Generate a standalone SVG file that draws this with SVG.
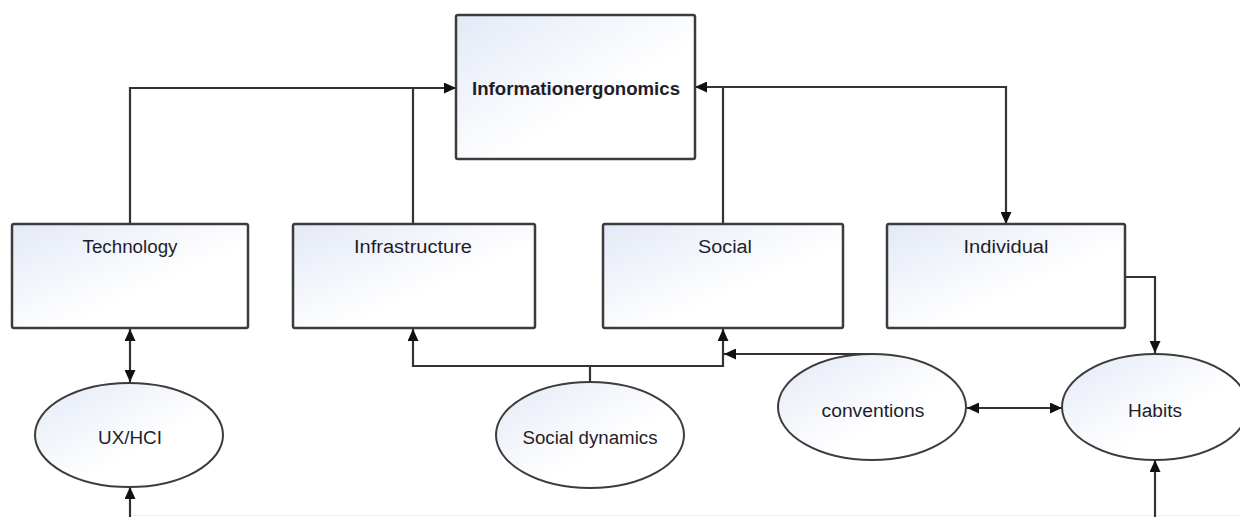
<svg xmlns="http://www.w3.org/2000/svg" width="1240" height="517" viewBox="0 0 1240 517">
  <defs>
    <linearGradient id="fill" x1="0" y1="0" x2="1" y2="1">
      <stop offset="0" stop-color="#e3e9f6"/>
      <stop offset="0.6" stop-color="#ffffff"/>
      <stop offset="1" stop-color="#ffffff"/>
    </linearGradient>
    <marker id="arrow" viewBox="0 0 12 11" refX="12" refY="5.5" markerWidth="12" markerHeight="11" markerUnits="userSpaceOnUse" orient="auto-start-reverse">
      <path d="M0,0 L12,5.5 L0,11 z" fill="#111"/>
    </marker>
    <style>
      .box { fill: url(#fill); stroke: #3c3c3c; stroke-width: 2.5; }
      .ell { fill: url(#fill); stroke: #3c3c3c; stroke-width: 2; }
      .conn { fill: none; stroke: #333; stroke-width: 2.2; }
      .lbl { font-family: "Liberation Sans", Arial, sans-serif; font-size: 18px; fill: #1e1e2a; text-anchor: middle; }
      .title { font-weight: bold; font-size: 18px; }
    </style>
  </defs>
  <rect width="1240" height="517" fill="#ffffff"/>
  <line x1="130" y1="515.5" x2="1240" y2="515.5" stroke="#f0f0f0" stroke-width="1"/>

  <g id="connectors">
    <path class="conn" d="M130,224 V88 H456" marker-end="url(#arrow)"/>
    <path class="conn" d="M413,224 V88"/>
    <path class="conn" d="M723,224 V87 H695" marker-end="url(#arrow)"/>
    <path class="conn" d="M723,87 H1006 V224" marker-end="url(#arrow)"/>
    <path class="conn" d="M130,329 V382" marker-start="url(#arrow)" marker-end="url(#arrow)"/>
    <path class="conn" d="M130,517 V487" marker-end="url(#arrow)"/>
    <path class="conn" d="M590,382 V366 H413 V329" marker-end="url(#arrow)"/>
    <path class="conn" d="M590,366 H723 V329" marker-end="url(#arrow)"/>
    <path class="conn" d="M872,354 H724" marker-end="url(#arrow)"/>
    <path class="conn" d="M1125,277 H1155 V353" marker-end="url(#arrow)"/>
    <path class="conn" d="M967,408 H1062" stroke-width="2.8" marker-start="url(#arrow)" marker-end="url(#arrow)"/>
    <path class="conn" d="M1155,517 V460" marker-end="url(#arrow)"/>
  </g>

  <g id="information-ergonomics">
    <rect class="box" x="456" y="15" width="239" height="144" rx="2"/>
    <text class="lbl title" x="576" y="95" textLength="208" lengthAdjust="spacingAndGlyphs">Informationergonomics</text>
  </g>
  <g id="technology">
    <rect class="box" x="12" y="224" width="236" height="104" rx="2"/>
    <text class="lbl" x="130" y="253" textLength="95" lengthAdjust="spacingAndGlyphs">Technology</text>
  </g>
  <g id="infrastructure">
    <rect class="box" x="293" y="224" width="242" height="104" rx="2"/>
    <text class="lbl" x="413" y="253" textLength="118" lengthAdjust="spacingAndGlyphs">Infrastructure</text>
  </g>
  <g id="social">
    <rect class="box" x="603" y="224" width="240" height="104" rx="2"/>
    <text class="lbl" x="725" y="253" textLength="54" lengthAdjust="spacingAndGlyphs">Social</text>
  </g>
  <g id="individual">
    <rect class="box" x="887" y="224" width="238" height="104" rx="2"/>
    <text class="lbl" x="1006" y="253" textLength="85" lengthAdjust="spacingAndGlyphs">Individual</text>
  </g>
  <g id="ux-hci">
    <ellipse class="ell" cx="129" cy="435" rx="94" ry="52"/>
    <text class="lbl" x="130" y="444" textLength="64" lengthAdjust="spacingAndGlyphs">UX/HCI</text>
  </g>
  <g id="social-dynamics">
    <ellipse class="ell" cx="590" cy="435" rx="94" ry="53"/>
    <text class="lbl" x="590" y="444" textLength="135" lengthAdjust="spacingAndGlyphs">Social dynamics</text>
  </g>
  <g id="conventions">
    <ellipse class="ell" cx="872" cy="407" rx="94" ry="53"/>
    <text class="lbl" x="873" y="417" textLength="103" lengthAdjust="spacingAndGlyphs">conventions</text>
  </g>
  <g id="habits">
    <ellipse class="ell" cx="1155" cy="407" rx="93" ry="53"/>
    <text class="lbl" x="1155" y="417" textLength="54" lengthAdjust="spacingAndGlyphs">Habits</text>
  </g>
</svg>
